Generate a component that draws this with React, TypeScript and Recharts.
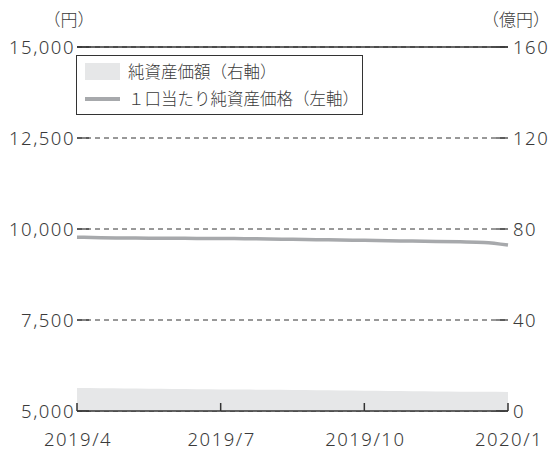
import {
  ComposedChart,
  Area,
  Line,
  XAxis,
  YAxis,
  CartesianGrid,
  ReferenceLine,
} from "recharts"

const dates = [
  "2019/4/1", "2019/4/16", "2019/5/1", "2019/5/16", "2019/6/1", "2019/6/16",
  "2019/7/1", "2019/7/16", "2019/8/1", "2019/8/16", "2019/9/1", "2019/9/16",
  "2019/10/1", "2019/10/16", "2019/11/1", "2019/11/16", "2019/12/1", "2019/12/16",
  "2020/1/1",
]
// 1口当たり純資産価格 (円, 左軸)
const navPerUnit = [
  9775, 9760, 9752, 9748, 9745, 9742, 9740, 9733, 9726, 9718, 9708, 9698,
  9688, 9678, 9668, 9658, 9648, 9632, 9560,
]
// 純資産価額 (億円, 右軸)
const netAssets = [
  10.1, 10.0, 9.9, 9.8, 9.7, 9.6, 9.5, 9.4, 9.3, 9.2, 9.1, 9.0,
  8.9, 8.8, 8.7, 8.6, 8.5, 8.45, 8.4,
]
const xTicks = ["2019/4/1", "2019/7/1", "2019/10/1", "2020/1/1"]
const leftTicks = [5000, 7500, 10000, 12500, 15000]
const rightTicks = [0, 40, 80, 120, 160]

const data = dates.map((d, i) => ({
  date: d,
  nav: navPerUnit[i],
  assets: netAssets[i],
}))

const ink = "#333333"
const textInk = "#3a3a3a"
const numFont = "'Noto Sans', sans-serif"
const jpFont = "'Noto Sans CJK JP', sans-serif"
const numStyle = {
  fontSize: 18.5,
  fontFamily: numFont,
  fontWeight: 300,
  letterSpacing: 1.5,
}
const unitStyle = {
  position: "absolute" as const,
  top: 6,
  width: 80,
  textAlign: "center" as const,
  fontFamily: jpFont,
  fontSize: 17,
  fontWeight: 300,
  color: textInk,
}

function LeftTick({ x, y, payload }: any) {
  return (
    <g>
      <line x1={x} y1={y} x2={x + 12} y2={y} stroke={ink} strokeWidth={1.2} />
      <text x={x - 2} y={y} dy={6.5} textAnchor="end" fill={textInk} style={numStyle}>
        {payload.value.toLocaleString("en-US")}
      </text>
    </g>
  )
}

function RightTick({ x, y, payload }: any) {
  return (
    <g>
      <line x1={x} y1={y} x2={x - 12} y2={y} stroke={ink} strokeWidth={1.2} />
      <text x={x + 5} y={y} dy={6.5} textAnchor="start" fill={textInk} style={numStyle}>
        {payload.value}
      </text>
    </g>
  )
}

function BottomTick({ x, y, payload }: any) {
  const parts = String(payload.value).split("/")
  return (
    <g>
      <line x1={x} y1={y} x2={x} y2={y - 8} stroke={ink} strokeWidth={1.5} />
      <text x={x + 1} y={y + 35} textAnchor="middle" fill={textInk} style={numStyle}>
        {`${parts[0]}/${parts[1]}`}
      </text>
    </g>
  )
}

export default function App() {
  return (
    <div style={{ position: "absolute", left: 0, top: 0, width: 553, height: 455, background: "#fff" }}>
      <div style={{ ...unitStyle, left: 29 }}>（円）</div>
      <div style={{ ...unitStyle, left: 476 }}>（億円）</div>
      <ComposedChart
        width={553}
        height={455}
        data={data}
        margin={{ top: 47, right: 0, left: 0, bottom: 0 }}
      >
        <CartesianGrid
          yAxisId="left"
          vertical={false}
          stroke={ink}
          strokeDasharray="5 4"
          strokeWidth={1}
        />
        <XAxis
          dataKey="date"
          ticks={xTicks}
          interval={0}
          height={44}
          tickSize={0}
          tickMargin={0}
          axisLine={{ stroke: ink, strokeWidth: 1.5 }}
          tickLine={false}
          tick={<BottomTick />}
          padding={{ left: 0, right: 0 }}
        />
        <YAxis
          yAxisId="left"
          orientation="left"
          domain={[5000, 15000]}
          ticks={leftTicks}
          width={77}
          axisLine={false}
          tickLine={false}
          tickSize={0}
          tickMargin={0}
          tick={<LeftTick />}
        />
        <YAxis
          yAxisId="right"
          orientation="right"
          domain={[0, 160]}
          ticks={rightTicks}
          width={45}
          axisLine={false}
          tickLine={false}
          tickSize={0}
          tickMargin={0}
          tick={<RightTick />}
        />
        <Area
          yAxisId="right"
          dataKey="assets"
          type="monotone"
          stroke="none"
          fill="#e6e7e8"
          fillOpacity={1}
          isAnimationActive={false}
        />
        <ReferenceLine yAxisId="left" y={15000} stroke={ink} strokeWidth={1.5} />
        <Line
          yAxisId="left"
          dataKey="nav"
          type="monotone"
          stroke="#a7a9ac"
          strokeWidth={3.5}
          dot={false}
          isAnimationActive={false}
        />
      </ComposedChart>
      <div
        style={{
          position: "absolute",
          left: 76,
          top: 55,
          width: 287,
          height: 60,
          border: `1px solid ${ink}`,
          background: "#fff",
          fontFamily: jpFont,
          fontSize: 16.5,
          fontWeight: 300,
          color: textInk,
          boxSizing: "border-box",
        }}
      >
        <div style={{ position: "absolute", left: 8, top: 7, width: 35, height: 17, background: "#e6e7e8" }} />
        <div style={{ position: "absolute", left: 51, top: 5, lineHeight: "20px", whiteSpace: "nowrap" }}>
          純資産価額（右軸）
        </div>
        <div style={{ position: "absolute", left: 8, top: 41, width: 35, height: 4, background: "#a7a9ac" }} />
        <div style={{ position: "absolute", left: 51, top: 32, lineHeight: "20px", whiteSpace: "nowrap" }}>
          １口当たり純資産価格（左軸）
        </div>
      </div>
    </div>
  )
}
